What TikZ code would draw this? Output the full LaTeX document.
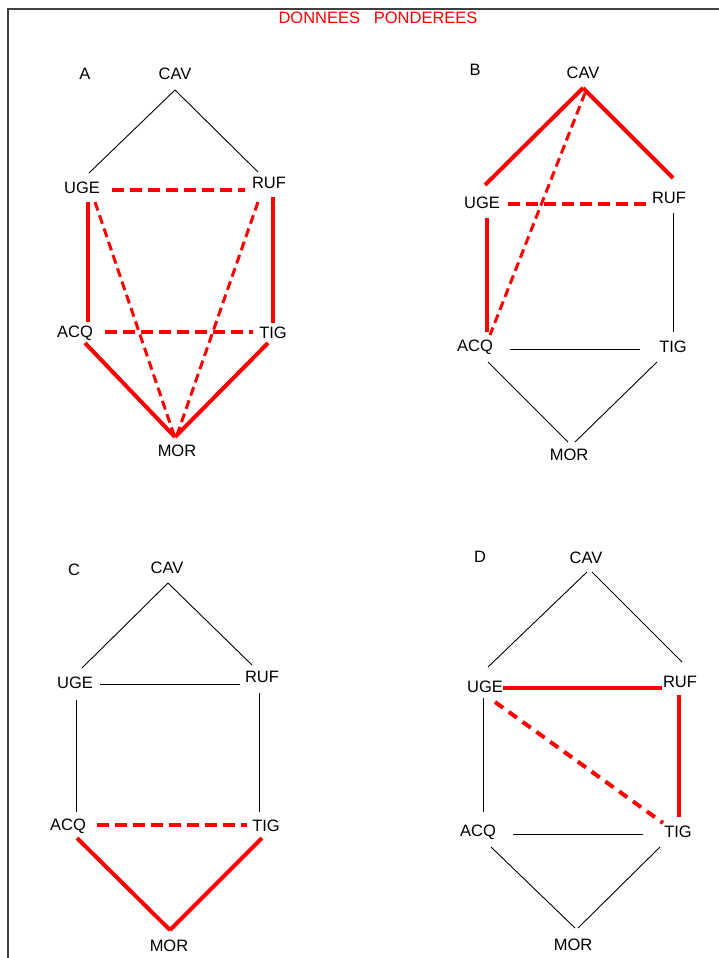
\documentclass[tikz,border=0pt]{standalone}
\usepackage{fontspec}
\setmainfont{Liberation Sans}
\usetikzlibrary{calc}

\begin{document}
\begin{tikzpicture}[
  x=1pt, y=-1pt,
  nm/.style={font=\fontsize{16.5}{18}\selectfont, inner sep=1pt},
  base/.style={draw=black, line width=0.9pt},
  heavy/.style={draw=red, line width=4pt},
  heavydash/.style={draw=red, line width=4pt, dash pattern=on 12pt off 6pt},
  lightdash/.style={draw=red, line width=3pt, dash pattern=on 9pt off 5pt}
]
\useasboundingbox (0,0) rectangle (719,958);

%% Frame and title
\draw[draw=black!75, line width=2pt] (8,958) -- (8,9) -- (719,9);
\node[nm, text=red] at (378,18) (title) {DONNEES~~~PONDEREES};

%% Panel A
\node[nm] at (85,74)   (tagA) {A};
\node[nm] at (175,74)  (cavA) {CAV};
\node[nm] at (82,188)  (ugeA) {UGE};
\node[nm] at (269,183) (rufA) {RUF};
\node[nm] at (75,333)  (acqA) {ACQ};
\node[nm] at (273,333) (tigA) {TIG};
\node[nm] at (177,451) (morA) {MOR};

\draw[base]      ($(cavA)+(0,16)$)   -- ($(ugeA)+(7,-15)$);
\draw[base]      ($(cavA)+(0,16)$)   -- ($(rufA)+(-11,-11)$);
\draw[heavydash] ($(ugeA)+(30,2)$)   -- ($(rufA)+(-24,7)$);
\draw[heavy]     ($(ugeA)+(6,14)$)   -- ($(acqA)+(13,-11)$);
\draw[heavy]     ($(rufA)+(4,14)$)   -- ($(tigA)+(0,-10)$);
\draw[heavydash] ($(acqA)+(30,-1)$)  -- ($(tigA)+(-20,-1)$);
\draw[lightdash] ($(ugeA)+(13,14)$)  -- ($(morA)+(-3,-16)$);
\draw[lightdash] ($(rufA)+(-11,19)$) -- ($(morA)+(0,-16)$);
\draw[heavy]     ($(acqA)+(10,10)$)  -- ($(morA)+(-2,-14)$);
\draw[heavy]     ($(tigA)+(-5,10)$)  -- ($(morA)+(-2,-14)$);

%% Panel B
\node[nm] at (475,70)  (tagB) {B};
\node[nm] at (583,73)  (cavB) {CAV};
\node[nm] at (482,203) (ugeB) {UGE};
\node[nm] at (669,198) (rufB) {RUF};
\node[nm] at (475,347) (acqB) {ACQ};
\node[nm] at (673,347) (tigB) {TIG};
\node[nm] at (569,455) (morB) {MOR};

\draw[heavy]     ($(cavB)+(0,15)$)   -- ($(ugeB)+(3,-18)$);
\draw[heavy]     ($(cavB)+(0,15)$)   -- ($(rufB)+(4,-20)$);
\draw[heavydash] ($(ugeB)+(26,1)$)   -- ($(rufB)+(-19,6)$);
\draw[heavy]     ($(ugeB)+(5,15)$)   -- ($(acqB)+(12,-15)$);
\draw[lightdash] ($(cavB)+(2,20)$)   -- ($(acqB)+(15,-12)$);
\draw[base]      ($(rufB)+(4,15)$)   -- ($(tigB)+(0,-15)$);
\draw[base]      ($(acqB)+(35,2)$)   -- ($(tigB)+(-33,2)$);
\draw[base]      ($(acqB)+(13,15)$)  -- ($(morB)+(-1,-13)$);
\draw[base]      ($(tigB)+(-16,15)$) -- ($(morB)+(6,-13)$);

%% Panel C
\node[nm] at (74,570)  (tagC) {C};
\node[nm] at (167,568) (cavC) {CAV};
\node[nm] at (75,683)  (ugeC) {UGE};
\node[nm] at (262,677) (rufC) {RUF};
\node[nm] at (68,826)  (acqC) {ACQ};
\node[nm] at (266,826) (tigC) {TIG};
\node[nm] at (169,946) (morC) {MOR};

\draw[base]      ($(cavC)+(1,15)$)   -- ($(ugeC)+(7,-15)$);
\draw[base]      ($(cavC)+(1,15)$)   -- ($(rufC)+(-10,-12)$);
\draw[base]      ($(ugeC)+(25,1)$)   -- ($(rufC)+(-22,7)$);
\draw[base]      ($(ugeC)+(1,17)$)   -- ($(acqC)+(8,-14)$);
\draw[base]      ($(rufC)+(-3,16)$)  -- ($(tigC)+(-7,-14)$);
\draw[heavydash] ($(acqC)+(29,-1)$)  -- ($(tigC)+(-19,-1)$);
\draw[heavy]     ($(acqC)+(9,12)$)   -- ($(morC)+(1,-16)$);
\draw[heavy]     ($(tigC)+(-4,12)$)  -- ($(morC)+(1,-16)$);

%% Panel D
\node[nm] at (480,557) (tagD) {D};
\node[nm] at (586,558) (cavD) {CAV};
\node[nm] at (485,687) (ugeD) {UGE};
\node[nm] at (680,682) (rufD) {RUF};
\node[nm] at (478,832) (acqD) {ACQ};
\node[nm] at (678,832) (tigD) {TIG};
\node[nm] at (573,945) (morD) {MOR};

\draw[base]      ($(cavD)+(1,14)$)   -- ($(ugeD)+(3,-20)$);
\draw[base]      ($(cavD)+(6,14)$)   -- ($(rufD)+(2,-20)$);
\draw[heavy]     ($(ugeD)+(18,1)$)   -- ($(rufD)+(-18,6)$);
\draw[heavydash, dash pattern=on 10pt off 7pt]
                 ($(ugeD)+(10,15)$)  -- ($(tigD)+(-15,-9)$);
\draw[heavy]     ($(rufD)+(-1,13)$)  -- ($(tigD)+(1,-15)$);
\draw[base]      ($(ugeD)+(-2,11)$)  -- ($(acqD)+(5,-20)$);
\draw[base]      ($(acqD)+(35,2)$)   -- ($(tigD)+(-35,2)$);
\draw[base]      ($(acqD)+(13,15)$)  -- ($(morD)+(2,-17)$);
\draw[base]      ($(tigD)+(-18,15)$) -- ($(morD)+(5,-17)$);
\end{tikzpicture}
\end{document}
